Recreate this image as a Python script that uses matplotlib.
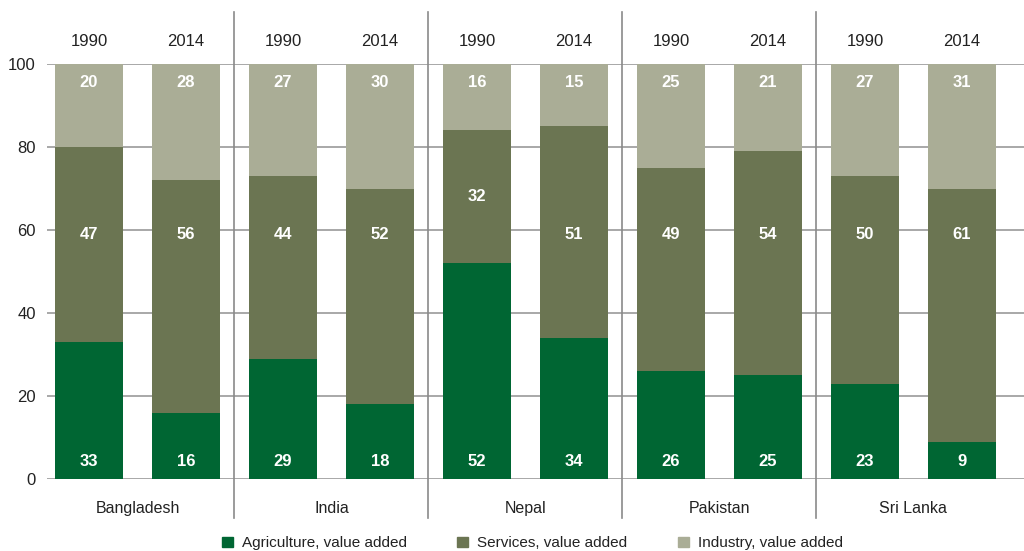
import matplotlib.pyplot as plt
import matplotlib.patches as mpatches
import numpy as np

plt.rcParams['font.family'] = ['Liberation Sans Narrow', 'Liberation Sans', 'DejaVu Sans']

countries = ["Bangladesh", "India", "Nepal", "Pakistan", "Sri Lanka"]
years = ["1990", "2014"]

# shares of GDP (%) per bar, ordered country by country, 1990 then 2014
agriculture = [33, 16, 29, 18, 52, 34, 26, 25, 23, 9]
services = [47, 56, 44, 52, 32, 51, 49, 54, 50, 61]
industry = [20, 28, 27, 30, 16, 15, 25, 21, 27, 31]

c_agri = "#006633"
c_serv = "#6b7552"
c_ind = "#aaad96"

fig = plt.figure(figsize=(10.24, 5.51), dpi=100)
ax = fig.add_axes([0.0459, 0.1307, 0.9541, 0.7531])

x = np.arange(len(agriculture))
agri = np.array(agriculture)
serv = np.array(services)
ind = np.array(industry)
w = 0.70

ax.bar(x, agri, w, color=c_agri, zorder=2)
ax.bar(x, serv, w, bottom=agri, color=c_serv, zorder=2)
ax.bar(x, ind, w, bottom=agri + serv, color=c_ind, zorder=2)

# value labels: agriculture near the base, services on a common line
# (centred when the segment sits too high), industry near the top
for i in range(len(x)):
    ys = 59 if 59 > agri[i] + 10 else agri[i] + serv[i] / 2
    ax.text(x[i], 4.2, str(agri[i]), ha="center", va="center", color="white",
            fontsize=12, fontweight="bold", zorder=3)
    ax.text(x[i], ys, str(serv[i]), ha="center", va="center",
            color="white", fontsize=12, fontweight="bold", zorder=3)
    ax.text(x[i], 95.5, str(ind[i]), ha="center", va="center", color="white",
            fontsize=12, fontweight="bold", zorder=3)
    ax.text(x[i], 105.5, years[i % 2], ha="center", va="center", fontsize=12,
            color="#222222", clip_on=False)

# country names and group separators
for k, name in enumerate(countries):
    ax.text(2 * k + 0.5, -7, name, ha="center", va="center", fontsize=11.5,
            color="#222222", clip_on=False)
for k in range(1, len(countries)):
    ax.plot([2 * k - 0.5, 2 * k - 0.5], [-9.4, 112.5], color="#8a8a8a",
            lw=1.2, clip_on=False, zorder=1)

ax.set_xlim(-0.433, 9.64)
ax.set_ylim(0, 100)
ax.set_yticks([0, 20, 40, 60, 80, 100])
ax.set_xticks([])
ax.tick_params(axis="y", length=0, labelsize=12, labelcolor="#222222", pad=8)
ax.grid(axis="y", color="#999999", lw=1.2, zorder=0)
ax.set_axisbelow(True)
for s in ax.spines.values():
    s.set_visible(False)

handles = [mpatches.Patch(color=c_agri, label="Agriculture, value added"),
           mpatches.Patch(color=c_serv, label="Services, value added"),
           mpatches.Patch(color=c_ind, label="Industry, value added")]
fig.legend(handles=handles, loc="center", bbox_to_anchor=(0.52, 0.014), ncol=3,
           frameon=False, fontsize=11, handlelength=0.7, handleheight=0.7,
           handletextpad=0.6, columnspacing=3.3, labelcolor="#222222")

fig.savefig("out.png", dpi=100)
